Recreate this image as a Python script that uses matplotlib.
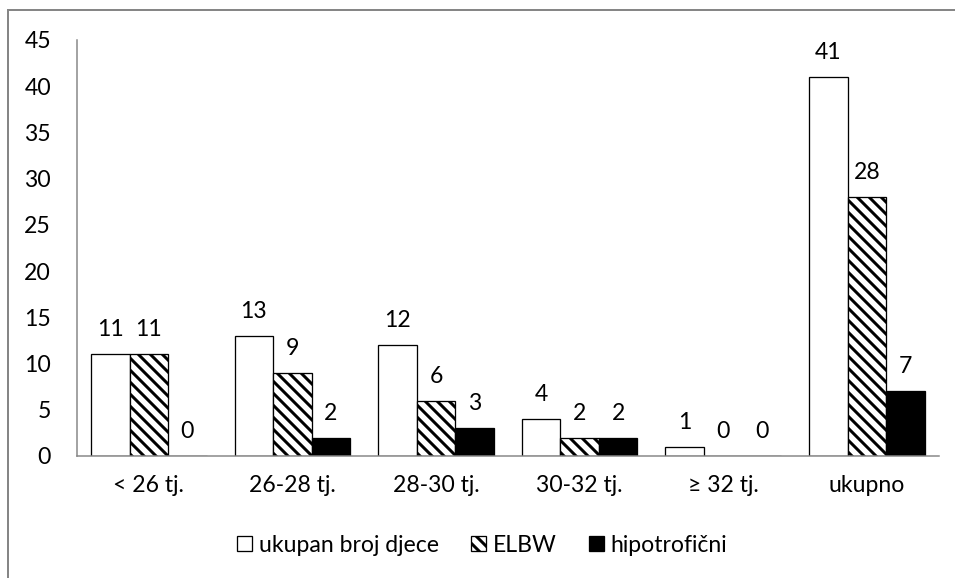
import matplotlib
matplotlib.use("Agg")

import matplotlib.pyplot as plt
import matplotlib.patches as mpatches
import numpy as np

# ---------------------------------------------------------------------------
# Data
# ---------------------------------------------------------------------------
categories = ["< 26 tj.", "26-28 tj.", "28-30 tj.", "30-32 tj.", "\u2265 32 tj.", "ukupno"]
ukupno = [11, 13, 12, 4, 1, 41]
elbw = [11, 9, 6, 2, 0, 28]
hipotroficni = [0, 2, 3, 2, 0, 7]
series_labels = ["ukupan broj djece", "ELBW", "hipotrofi\u010dni"]
yticks = [0, 5, 10, 15, 20, 25, 30, 35, 40, 45]

# ---------------------------------------------------------------------------
# Style
# ---------------------------------------------------------------------------
DPI = 72  # 1 pt == 1 px, hatch period ~12 px
W, H = 955, 578
GREY = "#868686"
plt.rcParams["font.family"] = ["Lato", "DejaVu Sans"]
plt.rcParams["hatch.linewidth"] = 3.0
FS = 23

fig = plt.figure(figsize=(W / DPI, H / DPI), dpi=DPI)
ax = fig.add_axes([77 / W, 1 - 456 / H, (938.6 - 77) / W, (456 - 40) / H])

x = np.arange(len(categories))
bw = 0.268
styles = [
    dict(color="white", edgecolor="black", hatch=None),
    dict(color="white", edgecolor="black", hatch="\\\\"),
    dict(color="black", edgecolor="black", hatch=None),
]
for i, (vals, st, lbl) in enumerate(zip([ukupno, elbw, hipotroficni], styles, series_labels)):
    bars = ax.bar(x + (i - 1) * bw, vals, bw, facecolor=st["color"],
                  edgecolor=st["edgecolor"], hatch=st["hatch"], linewidth=1.3,
                  label=lbl, zorder=3)
    ax.bar_label(bars, labels=[str(v) for v in vals], padding=14, fontsize=FS)

ax.set_xlim(-0.5, len(categories) - 0.5)
ax.set_ylim(0, 45)
ax.set_yticks(yticks)
ax.set_xticks(x)
ax.set_xticklabels(categories)
ax.tick_params(axis="both", length=0, labelsize=FS)
ax.tick_params(axis="y", pad=26)
ax.tick_params(axis="x", pad=19)

for side in ["top", "right"]:
    ax.spines[side].set_visible(False)
for side in ["left", "bottom"]:
    ax.spines[side].set_color(GREY)
    ax.spines[side].set_linewidth(1.5)
ax.spines["bottom"].set_zorder(4)

# Legend
leg_handles = [
    mpatches.Patch(facecolor="white", edgecolor="black", linewidth=1.3, label=series_labels[0]),
    mpatches.Patch(facecolor="white", edgecolor="black", hatch="\\\\", linewidth=1.3, label=series_labels[1]),
    mpatches.Patch(facecolor="black", edgecolor="black", linewidth=1.3, label=series_labels[2]),
]
fig.legend(handles=leg_handles, loc="center", bbox_to_anchor=(482 / W, 1 - 545 / H),
           ncol=3, frameon=False, fontsize=FS, handlelength=0.65, handleheight=0.65,
           handletextpad=0.3, columnspacing=1.4)

# Outer chart border (only top and left edges visible in the crop)
border = mpatches.Rectangle((8 / W, -0.1), 1.2, 1.1 - 10 / H,
                            transform=fig.transFigure, fill=False,
                            edgecolor=GREY, linewidth=2, zorder=0)
fig.patches.append(border)

fig.savefig("out.png", dpi=DPI, facecolor="white")
